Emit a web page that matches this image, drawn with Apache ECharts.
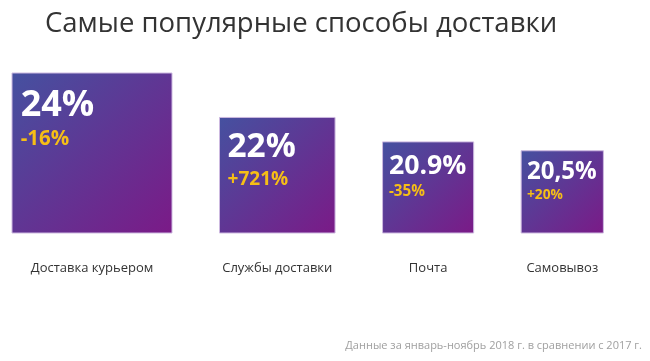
<!DOCTYPE html>
<html>
<head>
<meta charset="utf-8">
<script src="https://cdn.jsdelivr.net/npm/echarts@6/dist/echarts.min.js"></script>
<style>html,body{margin:0;padding:0;background:#fff;}#c{width:650px;height:361px;}</style>
</head>
<body>
<div id="c"></div>
<script>
const categories = ['Доставка курьером', 'Службы доставки', 'Почта', 'Самовывоз'];
const shares = [24, 22, 20.9, 20.5];
const shareLabels = ['24%', '22%', '20.9%', '20,5%'];
const changes = ['-16%', '+721%', '-35%', '+20%'];
const titleText = 'Самые популярные способы доставки';
const noteText = 'Данные за январь-ноябрь 2018 г. в сравнении с 2017 г.';

const Y_MIN = 16.8, Y_MAX = 24;
const GAP = 47.5;
const FONT = '"Open Sans", "Noto Sans", sans-serif';

const chart = echarts.init(document.getElementById('c'), null, {renderer: 'canvas'});

function renderItem(params, api) {
  const idx = params.dataIndex;
  const base = api.coord([0, Y_MIN]);
  const sideOf = v => base[1] - api.coord([0, v])[1];
  let x = base[0];
  for (let j = 0; j < idx; j++) x += sideOf(shares[j]) + GAP;
  const s = sideOf(api.value(1));
  const top = base[1] - s;
  const fs = Math.min(36, 8 + s * 0.22, s * 0.85 / 2.9);
  const fs2 = fs * 0.57;
  const pad = fs * 0.24;
  return {
    type: 'group',
    children: [
      {
        type: 'rect',
        shape: {x: x, y: top, width: s, height: s},
        style: {
          fill: new echarts.graphic.LinearGradient(0, 0, 1, 1, [
            {offset: 0, color: '#4551a0'},
            {offset: 1, color: '#7b1a87'}
          ]),
          stroke: '#cdb9e0',
          lineWidth: 1
        }
      },
      {
        type: 'text',
        x: x + pad, y: top + fs * 0.9,
        style: {
          text: shareLabels[idx], fill: '#ffffff',
          fontSize: fs, fontWeight: 'bold', fontFamily: FONT,
          align: 'left', verticalAlign: 'middle'
        }
      },
      {
        type: 'text',
        x: x + pad, y: top + fs * 1.85,
        style: {
          text: changes[idx], fill: '#f6be16',
          fontSize: fs2, fontWeight: 'bold', fontFamily: FONT,
          align: 'left', verticalAlign: 'middle'
        }
      },
      {
        type: 'text',
        x: x + s / 2, y: base[1] + 35,
        style: {
          text: categories[idx], fill: '#333333',
          fontSize: 13, fontFamily: FONT,
          align: 'center', verticalAlign: 'middle'
        }
      }
    ]
  };
}

chart.setOption({
  animation: false,
  title: [
    {
      text: titleText, left: 40, top: 5,
      textStyle: {fontSize: 27.5, fontWeight: 'normal', color: '#333333', fontFamily: FONT}
    },
    {
      text: noteText, right: 3, bottom: 5,
      textStyle: {fontSize: 11, fontWeight: 'normal', color: '#a0a0a0', fontFamily: FONT}
    }
  ],
  grid: {left: 12, right: 49, top: 73, bottom: 128},
  xAxis: {type: 'value', min: 0, max: 3, show: false},
  yAxis: {type: 'value', min: Y_MIN, max: Y_MAX, show: false},
  series: [{
    type: 'custom',
    renderItem: renderItem,
    clip: false,
    data: shares.map((v, i) => [i, v])
  }]
});
</script>
</body>
</html>
